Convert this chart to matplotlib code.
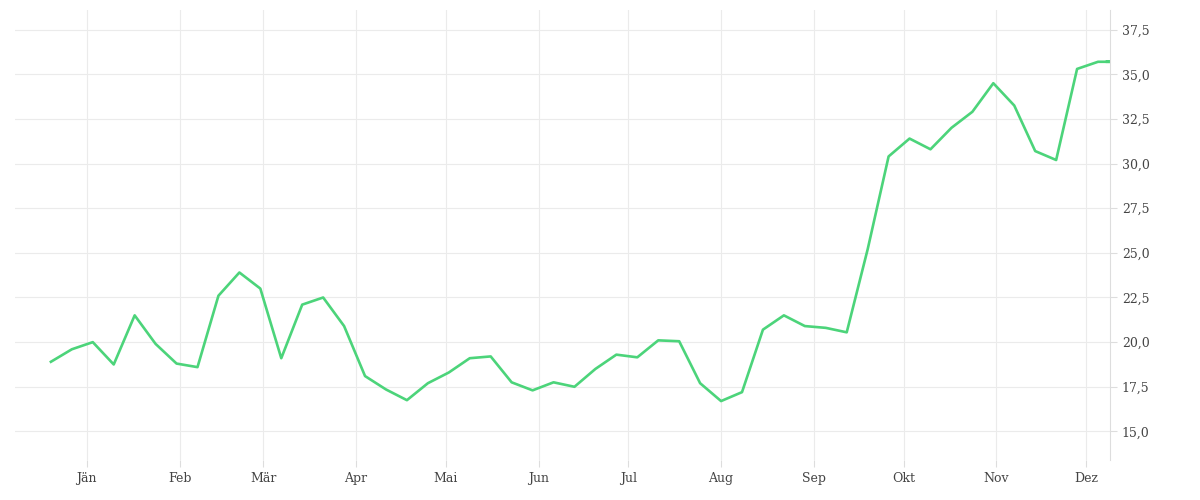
import matplotlib
matplotlib.use("Agg")
import matplotlib.pyplot as plt
import numpy as np
import pandas as pd

dates = list(pd.date_range("2023-01-03", periods=52, freq="7D")) + [pd.Timestamp("2023-12-22")]
values = [18.9, 19.6, 20.0, 18.75, 21.5, 19.9, 18.8, 18.6, 22.6, 23.9, 23.0, 19.1, 22.1, 22.5,
          20.9, 18.1, 17.35, 16.75, 17.7, 18.3, 19.1, 19.2, 17.75, 17.3, 17.75, 17.5, 18.5, 19.3,
          19.15, 20.1, 20.05, 17.7, 16.7, 17.2, 20.7, 21.5, 20.9, 20.8, 20.55, 25.2, 30.4, 31.4,
          30.8, 32.0, 32.9, 34.5, 33.25, 30.7, 30.2, 35.3, 35.7, 35.7]
values = values + [values[-1]] if len(values) < len(dates) else values
month_labels = ["Jän", "Feb", "Mär", "Apr", "Mai", "Jun", "Jul", "Aug", "Sep", "Okt", "Nov", "Dez"]
month_ticks = [pd.Timestamp(2023, m, 15) for m in range(1, 13)]
yticks = [15.0, 17.5, 20.0, 22.5, 25.0, 27.5, 30.0, 32.5, 35.0, 37.5]

fig = plt.figure(figsize=(12, 5), dpi=100)
ax = fig.add_axes([0.0125, 0.08, 0.9125, 0.90])
ax.plot(dates, values, color="#4cd47a", lw=1.9)
ax.set_xlim(pd.Timestamp("2022-12-22"), pd.Timestamp("2023-12-23"))
ax.set_ylim(13.4, 38.6)
ax.set_xticks(month_ticks)
ax.set_xticklabels(month_labels)
ax.set_yticks(yticks)
ax.set_yticklabels([f"{v:.1f}".replace(".", ",") for v in yticks])
ax.yaxis.tick_right()
ax.grid(True, color="#ebebeb", lw=0.8)
for s in ["top", "left", "bottom"]:
    ax.spines[s].set_visible(False)
ax.spines["right"].set_color("#dddddd")
ax.tick_params(axis="both", colors="#dddddd", labelcolor="#444444", labelsize=9, length=5)
for t in ax.get_xticklabels() + ax.get_yticklabels():
    t.set_family("DejaVu Serif")
fig.savefig("out.png")
